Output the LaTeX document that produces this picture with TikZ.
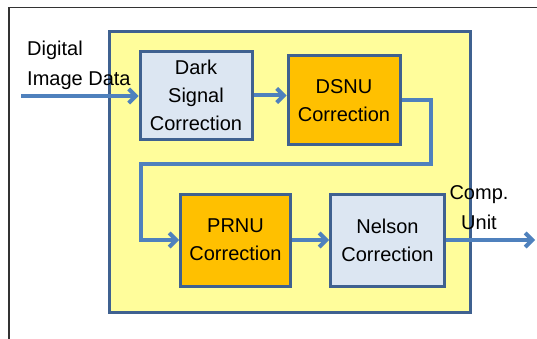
\documentclass[tikz,border=0pt]{standalone}
\usepackage{fontspec}
\setmainfont{Liberation Sans}
\usetikzlibrary{positioning, arrows.meta}
\definecolor{bgBlock}{HTML}{FFFD9B}
\definecolor{bgLight}{HTML}{DCE6F2}
\definecolor{bgOrange}{HTML}{FFC000}
\definecolor{borderBlue}{HTML}{3F6190}
\definecolor{arrowBlue}{HTML}{4F81BD}
\definecolor{frameGray}{HTML}{333333}
\tikzset{
  block/.style={
    draw=borderBlue, fill=bgBlock, line width=3pt,
    minimum width=361pt, minimum height=280pt, inner sep=0pt,
  },
  stage/.style={
    draw=borderBlue, fill=bgLight, line width=3pt,
    minimum width=112pt, minimum height=88pt, inner sep=0pt,
    font=\fontsize{20}{28}\selectfont, align=center,
  },
  hotstage/.style={stage, fill=bgOrange},
  lbl/.style={font=\fontsize{20}{30}\selectfont, inner sep=0pt},
  flowarrow/.style={
    -{Straight Barb[length=7pt, width=14pt]}, line width=4pt, color=arrowBlue,
  },
}
\begin{document}
\begin{tikzpicture}[x=1pt, y=-1pt]
  \useasboundingbox (0,0) rectangle (537,339);

  % === Page frame ===
  \draw[frameGray, line width=1.5pt] (9,339) |- (537,7.5);

  % === Correction unit ===
  \node[block] (unit) at (289.5,172) {};

  % === Stages ===
  \node[stage] (dark) at (196,95.5) {Dark\\Signal\\Correction};
  \node[hotstage, minimum height=89pt] (dsnu) at (344,100.5) {DSNU\\Correction};
  \node[hotstage, minimum width=110pt, minimum height=92pt] (prnu) at (235.5,240) {PRNU\\Correction};
  \node[stage, minimum width=114pt, minimum height=92pt, right=37pt of prnu] (nelson) {Nelson\\Correction};

  % === Labels ===
  \node[lbl, align=left, anchor=north west] (inLabel) at (27,41) {Digital\\Image Data};
  \node[lbl, align=center] (outLabel) at (479,208) {Comp.\\Unit};

  % === Arrows ===
  \coordinate (inStart) at (21,96);
  \coordinate (turnR) at (431,164);
  \coordinate (turnL) at (141,164);
  \coordinate (outEnd) at (535,240);
  \draw[flowarrow] (inStart) -- (inStart -| dark.west);
  \draw[flowarrow] (dark.east) -- (dark.east -| dsnu.west);
  \draw[flowarrow] (dsnu.east) -| (turnR) -- (turnL) |- (prnu.west);
  \draw[flowarrow] (prnu.east) -- (nelson.west);
  \draw[flowarrow] (nelson.east) -- (outEnd);

\end{tikzpicture}
\end{document}
